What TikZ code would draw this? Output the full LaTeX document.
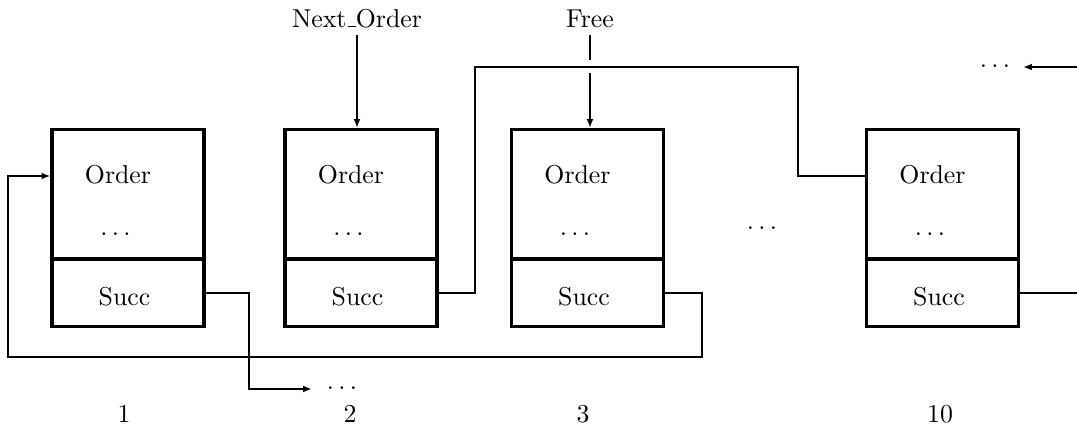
\documentclass[tikz,border=0pt]{standalone}
\usetikzlibrary{arrows.meta,calc}
\newcommand{\myus}{\leavevmode\kern.06em\vbox{\hrule width.3em}}
\tikzset{
  x=0.3874pt,y=-0.3874pt,
  box/.style={draw,line width=1.2pt,minimum width=58.9pt,minimum height=76.3pt,inner sep=0pt},
  divline/.style={line width=1.2pt},
  conn/.style={line width=0.75pt},
  tip/.style={-{Latex[length=3.4pt,width=2.6pt]}},
  lbl/.style={inner sep=0pt,anchor=base,font=\normalsize}
}
\begin{document}
\begin{tikzpicture}
\useasboundingbox (0,0) rectangle (1077,428);
\foreach \i/\x in {1/128,2/361,3/587.5,4/942.5}{
  \node[box] (b\i) at (\x,228) {};
  \draw[divline] ($(b\i.west)+(0,31)$) -- ($(b\i.east)+(0,31)$);
  \node[lbl] (ord\i) at ($(b\i.center)+(-10,-45)$) {Order};
  \node[lbl] (dot\i) at ($(b\i.center)+(-12.5,7)$) {$\ldots$};
  \node[lbl] (suc\i) at ($(b\i.center)+(-3.5,77)$) {Succ};
  \path (b\i.east) ++(0,65) coordinate (o\i);
}
% bottom labels
\node[lbl] (n1) at (124,422) {1};
\node[lbl] (n2) at (350,422) {2};
\node[lbl] (n3) at (583,422) {3};
\node[lbl] (n4) at (940,422) {10};
% top labels
\node[lbl] (nxt) at (357,27) {Next\myus Order};
\node[lbl] (fre) at (590,27) {Free};
% other dots
\node[lbl] (dm) at (762,229) {$\ldots$};
\node[lbl] (dr) at (995,68) {$\ldots$};
\node[lbl] (db) at (342,389) {$\ldots$};
% coordinates
\coordinate (e1) at (312,389);
\coordinate (lc) at (8,357);
\path (b1.west) ++(0,-52) coordinate (i1);
\path (b4.west) ++(0,-52) coordinate (i4);
\coordinate (tp) at (798,67);
\coordinate (rr) at (1077,293);
\coordinate (rs) at (1077,67);
\coordinate (re) at (1023,67);
\coordinate (gA) at (590,60);
\coordinate (gB) at (590,73);
% connectors
\draw[conn,tip] (o1) -- ++(43,0) |- (e1);
\draw[conn,tip] (o3) -- ++(37,0) |- (lc) |- (i1);
\draw[conn] (o2) -- ++(36,0) |- (tp) |- (i4);
\draw[conn] (o4) -- (rr);
\draw[conn,tip] (rs) -- (re);
\draw[conn,tip] ([yshift=-3pt]nxt.base) -- (nxt.base |- b2.north);
\draw[conn] ([yshift=-3pt]fre.base) -- (gA);
\draw[conn,tip] (gB) -- (gB |- b3.north);
\end{tikzpicture}
\end{document}
